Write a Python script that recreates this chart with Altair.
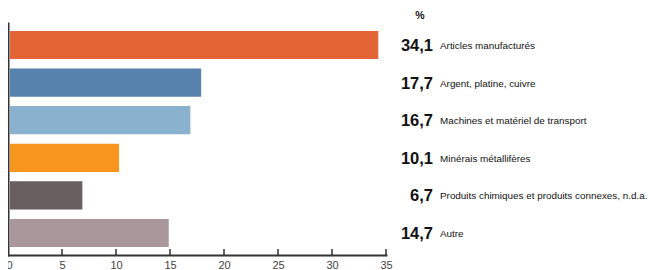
import altair as alt
import pandas as pd

categories = [
    "Articles manufacturés",
    "Argent, platine, cuivre",
    "Machines et matériel de transport",
    "Minérais métallifères",
    "Produits chimiques et produits connexes, n.d.a.",
    "Autre",
]
values = [34.1, 17.7, 16.7, 10.1, 6.7, 14.7]
colors = ["#E36434", "#5782AD", "#8AB1CD", "#F7951F", "#6A5F5F", "#AA979C"]
x_ticks = [0, 5, 10, 15, 20, 25, 30, 35]

FONT = "Liberation Sans, Arial, sans-serif"

df = pd.DataFrame({
    "cat": categories,
    "val": values,
    "label": [f"{v:.1f}".replace(".", ",") for v in values],
    "color": colors,
})
ticks_df = pd.DataFrame({"t": x_ticks[1:]})

W, H = 378, 232

y_enc = alt.Y("cat:N", sort=categories,
              scale=alt.Scale(paddingInner=0.25, paddingOuter=0.21),
              axis=alt.Axis(title=None, labels=False, ticks=False,
                            domainColor="#333333", domainWidth=2))
x_scale = alt.Scale(domain=[0, 35], nice=False)

bars = alt.Chart(df).mark_bar(xOffset=2).encode(
    x=alt.X("val:Q", scale=x_scale,
            axis=alt.Axis(title=None, values=x_ticks, grid=False, ticks=False,
                          domainColor="#333333", domainWidth=2,
                          labelFont=FONT, labelFontSize=11, labelColor="#444444",
                          labelPadding=4, labelFlush=False,
                          labelAlign=alt.condition("datum.value == 0",
                                                   alt.value("left"),
                                                   alt.value("center")),
                          labelOffset=alt.condition("datum.value == 0",
                                                    alt.value(-2),
                                                    alt.value(0)))),
    y=y_enc,
    color=alt.Color("color:N", scale=None),
)

tick_marks = alt.Chart(ticks_df).mark_tick(
    orient="vertical", size=6, thickness=2, color="#222222"
).encode(
    x=alt.X("t:Q", scale=x_scale),
    y=alt.value(H - 3),
)

val_text = alt.Chart(df).mark_text(
    align="right", baseline="middle", font=FONT, fontSize=16.5,
    fontWeight="bold", color="#111111", dy=1
).encode(
    x=alt.value(425),
    y=alt.Y("cat:N", sort=categories),
    text="label:N",
)

cat_text = alt.Chart(df).mark_text(
    align="left", baseline="middle", font=FONT, fontSize=9.9, color="#111111", dy=1
).encode(
    x=alt.value(432),
    y=alt.Y("cat:N", sort=categories),
    text="cat:N",
)

pct = alt.Chart(pd.DataFrame({"t": ["%"]})).mark_text(
    align="center", baseline="middle", font=FONT, fontSize=10.5,
    fontWeight="bold", color="#111111"
).encode(x=alt.value(412), y=alt.value(-7), text="t:N")

chart = alt.layer(bars, tick_marks, val_text, cat_text, pct).properties(
    width=W, height=H,
    autosize=alt.AutoSizeParams(type="none"),
    padding={"left": 0, "top": 15, "right": 264, "bottom": 15},
).configure_view(stroke=None).configure_axis(domainCap="square")

chart.save("out.html", embed_options={"renderer": "svg", "actions": False})
